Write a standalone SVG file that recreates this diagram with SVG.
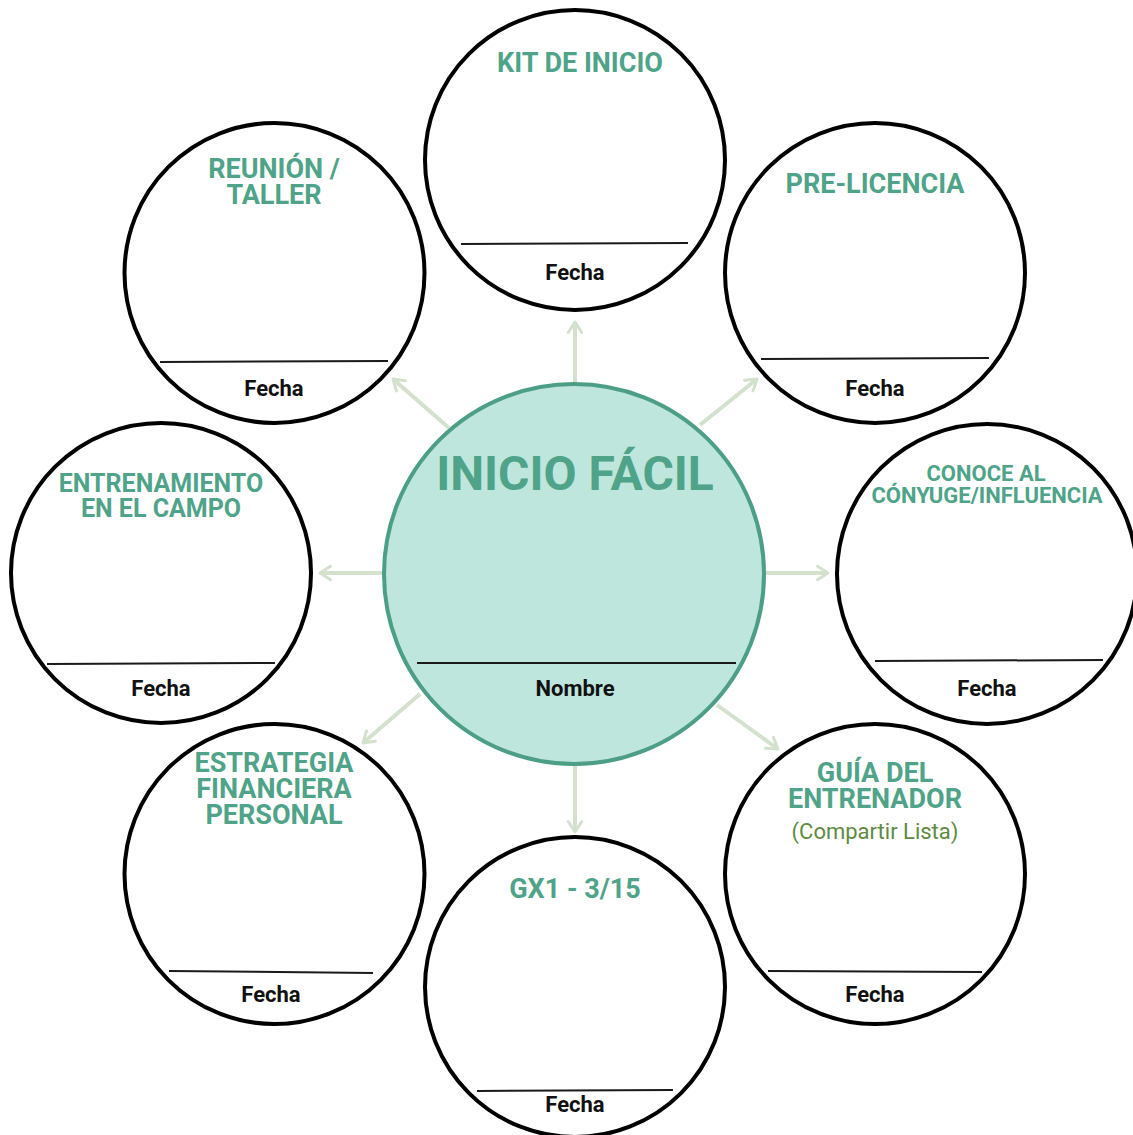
<svg xmlns="http://www.w3.org/2000/svg" width="1133" height="1135" viewBox="0 0 1133 1135">
<style>
.ring{fill:#fff;stroke:#000;stroke-width:4}
.hub{fill:#bee6dc;stroke:#4c9f86;stroke-width:4}
.rule{stroke:#1a1a1a;stroke-width:2}
.t{font-family:Roboto,"Liberation Sans",sans-serif;font-weight:700;fill:#4ea388;text-anchor:middle;font-size:27px}
.tm{font-size:25px}
.ts{font-size:22px}
.f{font-family:Roboto,"Liberation Sans",sans-serif;font-weight:700;fill:#111;text-anchor:middle;font-size:22px}
.sub{font-family:Roboto,"Liberation Sans",sans-serif;font-weight:400;fill:#5e8a42;text-anchor:middle;font-size:22px}
.c{stroke:#d3e1cd;stroke-width:4;fill:none;marker-end:url(#ah)}
</style>
<defs>
<marker id="ah" viewBox="0 0 12 12" refX="9" refY="6" markerWidth="4.5" markerHeight="4.5" markerUnits="strokeWidth" orient="auto">
<path d="M2,1.5 L9,6 L2,10.5" fill="none" stroke="#d3e1cd" stroke-width="2" stroke-linecap="round" stroke-linejoin="round"/>
</marker>
</defs>
<rect width="1133" height="1135" fill="#fff"/>
<g id="connectors">
<line class="c" x1="575" y1="382" x2="575" y2="322"/>
<line class="c" x1="575" y1="766" x2="575" y2="832"/>
<line class="c" x1="383" y1="573" x2="320" y2="573"/>
<line class="c" x1="766" y1="573" x2="828" y2="573"/>
<line class="c" x1="700" y1="425" x2="757" y2="379"/>
<line class="c" x1="449" y1="428" x2="393" y2="379"/>
<line class="c" x1="420" y1="694" x2="363" y2="743"/>
<line class="c" x1="717" y1="705" x2="778" y2="749"/>
</g>
<g id="node-kit">
<circle class="ring" cx="575" cy="160" r="150"/>
<line class="rule" x1="461" y1="244" x2="688" y2="243"/>
<text class="t" x="580" y="72">KIT DE INICIO</text>
<text class="f" x="575" y="280">Fecha</text>
</g>
<g id="node-reunion">
<circle class="ring" cx="274.5" cy="273" r="150"/>
<line class="rule" x1="160" y1="362" x2="388" y2="361"/>
<text class="t" x="274" y="178">REUNIÓN /</text>
<text class="t" x="274" y="204">TALLER</text>
<text class="f" x="274" y="396">Fecha</text>
</g>
<g id="node-prelicencia">
<circle class="ring" cx="875" cy="273" r="150"/>
<line class="rule" x1="761" y1="359" x2="989" y2="358"/>
<text class="t" x="875" y="193">PRE-LICENCIA</text>
<text class="f" x="875" y="396">Fecha</text>
</g>
<g id="node-entrenamiento">
<circle class="ring" cx="161" cy="573" r="150"/>
<line class="rule" x1="47" y1="664" x2="275" y2="663"/>
<text class="t tm" x="161" y="492">ENTRENAMIENTO</text>
<text class="t tm" x="161" y="517">EN EL CAMPO</text>
<text class="f" x="161" y="696">Fecha</text>
</g>
<g id="node-conyuge">
<circle class="ring" cx="987" cy="574" r="150"/>
<line class="rule" x1="875" y1="661" x2="1103" y2="660"/>
<text class="t ts" x="986" y="481">CONOCE AL</text>
<text class="t ts" x="987" y="503">CÓNYUGE/INFLUENCIA</text>
<text class="f" x="987" y="696">Fecha</text>
</g>
<g id="node-estrategia">
<circle class="ring" cx="274.5" cy="874" r="150"/>
<line class="rule" x1="169" y1="971" x2="373" y2="973"/>
<text class="t" x="274" y="772">ESTRATEGIA</text>
<text class="t" x="274" y="798">FINANCIERA</text>
<text class="t" x="274" y="824">PERSONAL</text>
<text class="f" x="271" y="1002">Fecha</text>
</g>
<g id="node-gx1">
<circle class="ring" cx="575" cy="987" r="150"/>
<line class="rule" x1="477" y1="1091" x2="673" y2="1090"/>
<text class="t" x="575" y="898">GX1 - 3/15</text>
<text class="f" x="575" y="1112">Fecha</text>
</g>
<g id="node-guia">
<circle class="ring" cx="875" cy="874" r="150"/>
<line class="rule" x1="768" y1="971" x2="982" y2="972"/>
<text class="t" x="875" y="782">GUÍA DEL</text>
<text class="t" x="875" y="808">ENTRENADOR</text>
<text class="sub" x="875" y="839">(Compartir Lista)</text>
<text class="f" x="875" y="1002">Fecha</text>
</g>
<g id="node-inicio">
<circle class="hub" cx="574" cy="574" r="190"/>
<line class="rule" x1="417" y1="663" x2="736" y2="663"/>
<text class="t" x="575" y="490" style="font-size:48px">INICIO FÁCIL</text>
<text class="f" x="575" y="696">Nombre</text>
</g>
</svg>
